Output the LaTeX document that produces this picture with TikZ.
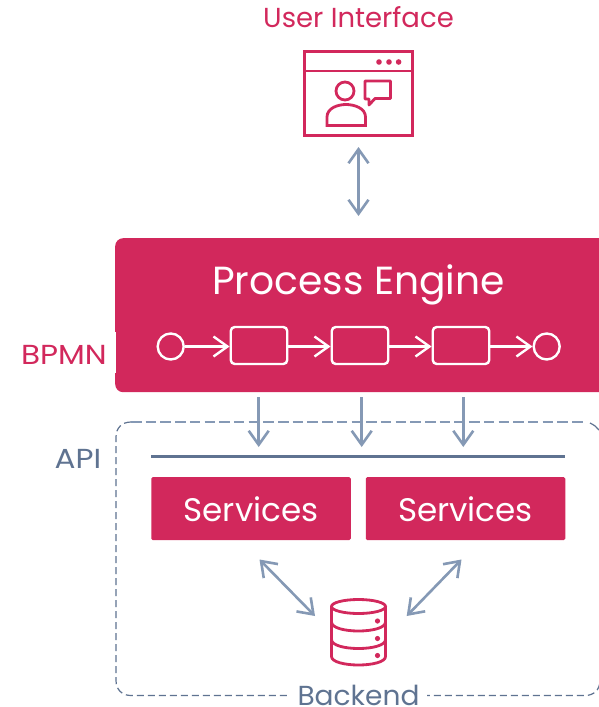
\documentclass[tikz,border=0pt]{standalone}
\usepackage{fontspec}
\setmainfont{Poppins}
\usetikzlibrary{arrows.meta}
\definecolor{crim}{HTML}{D2285C}
\definecolor{arrowblue}{HTML}{8599B5}
\definecolor{slate}{HTML}{5F7391}
\tikzset{
  x=1pt,y=-1pt,
  flow/.style={draw=arrowblue,line width=2.6pt,{Straight Barb[length=14pt,width=20pt,line width=2.6pt]}-{Straight Barb[length=14pt,width=20pt,line width=2.6pt]}},
  flowdown/.style={draw=arrowblue,line width=2.6pt,-{Straight Barb[length=14pt,width=20pt,line width=2.6pt]}},
  bpmnflow/.style={draw=white,line width=2.4pt,-{Straight Barb[length=14pt,width=20pt,line width=2.4pt]}},
  bpmnevent/.style={circle,draw=white,line width=2.4pt,minimum size=26pt,inner sep=0pt},
  bpmntask/.style={rectangle,rounded corners=4pt,draw=white,line width=2.4pt,minimum width=56.5pt,minimum height=37pt,inner sep=0pt},
  svc/.style={rectangle,rounded corners=1.5pt,fill=crim,minimum width=199.5pt,minimum height=63pt,inner sep=0pt},
  svctext/.style={anchor=base,text=white,inner sep=0pt,font=\fontsize{32.6}{36}\selectfont},
  icon/.style={draw=crim,line width=2.8pt},
  lab/.style={anchor=base,inner sep=0pt,font=\fontsize{27.5}{30}\selectfont},
}
\begin{document}
\begin{tikzpicture}
\useasboundingbox (0,0) rectangle (599,707);
\fill[white] (0,0) rectangle (599,707);
% backend frame: three thin sides and a heavier top side
\draw[slate,line width=1.2pt,dash pattern=on 7pt off 4pt] (131,422) .. controls (122,422) and (116,428) .. (116,437) -- (116,680.5) .. controls (116,689.5) and (122,695.5) .. (131,695.5) -- (585,695.5) .. controls (594,695.5) and (600,689.5) .. (600,680.5);
\draw[arrowblue,line width=1.7pt,dash pattern=on 10.5pt off 4.2pt] (131,422) -- (585,422);
\draw[slate,line width=1.2pt] (590,423) .. controls (594,425) and (597,427) .. (599,430);
% engine
\node[anchor=north west,fill=crim,rounded corners=8pt,minimum width=500pt,minimum height=154pt,inner sep=0pt] (engine) at (115,238) {};
\fill[white] (114,332) rectangle (116,373);
\node[anchor=base,text=white,inner sep=0pt,font=\fontsize{39.2}{42}\selectfont] (title) at (358.5,294) {Process Engine};
\node[bpmnevent] (start) at (170.7,346.5) {};
\node[bpmntask] (t1) at (259,345.5) {};
\node[bpmntask] (t2) at (360,345.5) {};
\node[bpmntask] (t3) at (461,345.5) {};
\node[bpmnevent] (end) at (546.7,346.5) {};
\draw[bpmnflow] (start) -- (t1.west|-start);
\draw[bpmnflow] (t1.east|-start) -- (t2.west|-start);
\draw[bpmnflow] (t2.east|-start) -- (t3.west|-start);
\draw[bpmnflow] (t3.east|-start) -- (end);
% labels
\node[lab,text=crim] (ui) at (358.5,27) {User Interface};
\node[lab,text=crim] (bpmn) at (64,364) {\scalebox{1.13}[1]{BPMN}};
\node[lab,text=slate] (api) at (78,468) {\scalebox{1.13}[1]{API}};
% UI icon
\node[draw=crim,line width=2.8pt,minimum width=108pt,minimum height=84pt,inner sep=0pt] (window) at (358.5,93.5) {};
\draw[icon] (304,71) -- (413,71);
\fill[crim] (379,62) circle (2.8) (389,62) circle (2.8) (398.6,62) circle (2.8);
\draw[icon] (345,91) circle (9);
\draw[icon] (327,125.5) -- (327,117) .. controls (327,108) and (338,104.5) .. (346,104.5) .. controls (354,104.5) and (365.5,108) .. (365.5,117) -- (365.5,125.5) -- cycle;
\draw[icon,line join=round] (365,99) -- (365,81) -- (390.5,81) -- (390.5,98.5) -- (375,98.5) -- (369,105) -- (369,99) -- cycle;
% UI <-> engine
\coordinate (uia) at (358.5,147);
\coordinate (uib) at (358.5,216);
\draw[flow] (uia) -- (uib);
% API
\coordinate (apia) at (151,456.5);
\coordinate (apib) at (565,456.5);
\draw[slate,line width=2.6pt] (apia) -- (apib);
\coordinate (d1a) at (258.7,397);\coordinate (d1b) at (258.7,447);
\coordinate (d2a) at (361.7,397);\coordinate (d2b) at (361.7,447);
\coordinate (d3a) at (463.3,397);\coordinate (d3b) at (463.3,447);
\draw[flowdown] (d1a) -- (d1b);
\draw[flowdown] (d2a) -- (d2b);
\draw[flowdown] (d3a) -- (d3b);
% services
\node[svc] (s1) at (251,508.5) {};
\node[svc] (s2) at (465.5,508.5) {};
\node[svctext] (s1t) at (251,521) {Services};
\node[svctext] (s2t) at (465.5,521) {Services};
% db
\coordinate (dbl1) at (259.5,559.5);\coordinate (dbl2) at (315,616);
\coordinate (dbr1) at (461.5,559.5);\coordinate (dbr2) at (406.7,616);
\draw[flow] (dbl1) -- (dbl2);
\draw[flow] (dbr1) -- (dbr2);
\draw[icon] (358.5,606.5) ellipse (27 and 7);
\draw[icon] (331.5,606.5) -- (331.5,656.5) .. controls (331.5,662) and (345,665) .. (358.5,665) .. controls (372,665) and (385.5,662) .. (385.5,656.5) -- (385.5,606.5);
\draw[icon] (331.5,622) .. controls (331.5,628) and (345,631) .. (358.5,631) .. controls (372,631) and (385.5,628) .. (385.5,622);
\draw[icon] (331.5,639.5) .. controls (331.5,645.5) and (345,648.5) .. (358.5,648.5) .. controls (372,648.5) and (385.5,645.5) .. (385.5,639.5);
\fill[crim] (377.5,621) circle (2.6) (377.5,638.5) circle (2.6) (377.5,655.5) circle (2.6);
% backend label
\fill[white] (288,688) rectangle (427,703);
\node[lab,text=slate] (backend) at (358.5,705) {\scalebox{1.02}[1]{Backend}};
\end{tikzpicture}
\end{document}
